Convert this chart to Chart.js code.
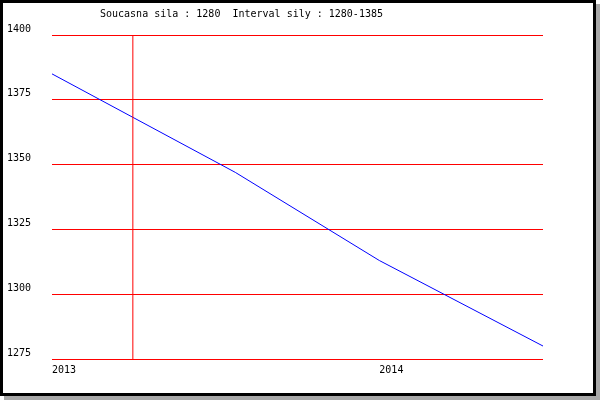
<!DOCTYPE html>
<html>
<head>
<meta charset="utf-8">
<script src="https://cdn.jsdelivr.net/npm/chart.js@4"></script>
<style>
  body { margin: 0; background: #fff; }
  #frame {
    position: absolute;
    left: 0;
    top: 0;
    width: 590px;
    height: 390px;
    border: 3px solid #000;
    box-shadow: 4px 4px 0 #a8a8a8;
    background: #fff;
  }
</style>
</head>
<body>
<div id="frame"><canvas id="silaChart" width="590" height="390"></canvas></div>
<script>
// data
const chartTitle = "Soucasna sila : 1280  Interval sily : 1280-1385";
const years = [2013.0, 2013.56, 2014.0, 2014.5];
const strength = [1385, 1347, 1313, 1280];
const xTicks = [2013, 2014];
const yTicks = [1275, 1300, 1325, 1350, 1375, 1400];
const markerYears = [2013.247];

const FONT = { family: "'DejaVu Sans Mono', monospace", size: 10 };
const RED = "#ff0000";

function silaChart() {
  const ctx = document.getElementById("silaChart").getContext("2d");

  const yMin = yTicks[0];
  const yMax = yTicks[yTicks.length - 1];
  const xMin = xTicks[0];
  const xMax = years[years.length - 1];

  const data = {
    datasets: [
      {
        label: "marker",
        data: [
          { x: markerYears[0], y: yMin },
          { x: markerYears[0], y: yMax },
        ],
        borderColor: RED,
        borderWidth: 1,
        pointRadius: 0,
      },
      {
        label: "sila",
        data: years.map((y, i) => ({ x: y, y: strength[i] })),
        borderColor: "#0000ff",
        borderWidth: 1,
        pointRadius: 0,
        tension: 0,
      },
    ],
  };

  // title drawn by hand, it is not centred in the original
  const titlePlugin = {
    id: "leftTitle",
    afterDraw(chart) {
      const c = chart.ctx;
      c.save();
      c.font = `${FONT.size}px ${FONT.family}`;
      c.fillStyle = "#000";
      c.textAlign = "left";
      c.textBaseline = "middle";
      c.fillText(chartTitle, 97, 11);
      c.restore();
    },
  };

  const options = {
    responsive: false,
    animation: false,
    devicePixelRatio: 1,
    layout: { padding: { left: 4, right: 50, top: 32, bottom: 0 } },
    plugins: {
      legend: { display: false },
      title: { display: false },
      tooltip: { enabled: false },
    },
    scales: {
      x: {
        type: "linear",
        min: xMin,
        max: xMax,
        afterBuildTicks: (s) => { s.ticks = xTicks.map((v) => ({ value: v })); },
        afterFit: (s) => { s.height = 34; },
        grid: { display: false, drawTicks: false },
        border: { display: false },
        ticks: {
          align: "start",
          padding: 5,
          color: "#000",
          font: FONT,
          callback: (v) => String(v),
        },
      },
      y: {
        min: yMin,
        max: yMax,
        afterBuildTicks: (s) => { s.ticks = yTicks.map((v) => ({ value: v })); },
        afterFit: (s) => { s.width = 45; },
        grid: {
          drawTicks: false,
          color: RED,
          lineWidth: 1,
        },
        border: { display: false },
        ticks: {
          crossAlign: "far",
          labelOffset: -6,
          color: "#000",
          font: FONT,
          callback: (v) => String(v),
        },
      },
    },
  };

  new Chart(ctx, {
    type: "line",
    data: data,
    options: options,
    plugins: [titlePlugin],
  });
}

silaChart();
</script>
</body>
</html>
